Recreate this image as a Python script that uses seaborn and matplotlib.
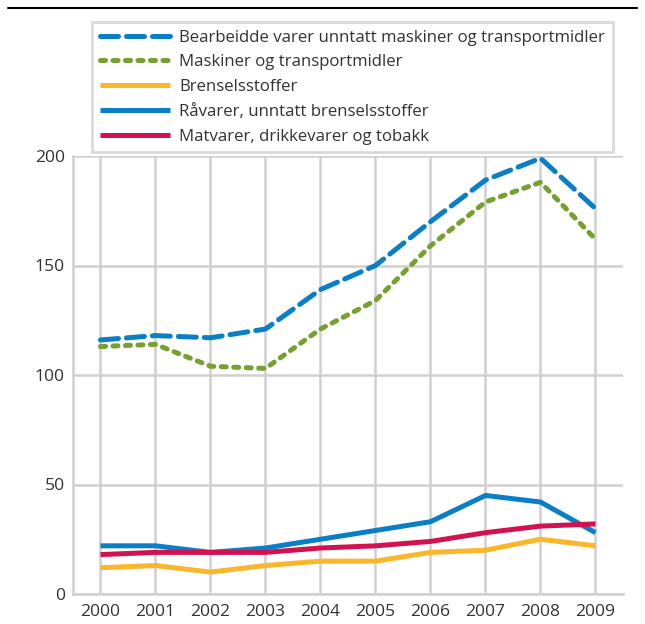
import matplotlib
matplotlib.use("Agg")
import matplotlib.pyplot as plt
import matplotlib.lines as mlines
import seaborn as sns
import pandas as pd

years = [2000, 2001, 2002, 2003, 2004, 2005, 2006, 2007, 2008, 2009]
series_names = [
    "Bearbeidde varer unntatt maskiner og transportmidler",
    "Maskiner og transportmidler",
    "Brenselsstoffer",
    "Råvarer, unntatt brenselsstoffer",
    "Matvarer, drikkevarer og tobakk",
]
bearbeidde = [116, 118, 117, 121, 139, 150, 170, 189, 199, 176]
maskiner = [113, 114, 104, 103, 121, 134, 159, 179, 188, 162]
brensel = [12, 13, 10, 13, 15, 15, 19, 20, 25, 22]
ravarer = [22, 22, 19, 21, 25, 29, 33, 45, 42, 28]
matvarer = [18, 19, 19, 19, 21, 22, 24, 28, 31, 32]
yticks = [0, 50, 100, 150, 200]

values = [bearbeidde, maskiner, brensel, ravarer, matvarer]
rows = []
for name, vals in zip(series_names, values):
    for y, v in zip(years, vals):
        rows.append({"year": y, "value": v, "series": name})
df = pd.DataFrame(rows)

sns.set_theme(style="white")
plt.rcParams["font.family"] = ["Open Sans", "DejaVu Sans"]

colors = {
    series_names[0]: "#0a7fc6",
    series_names[1]: "#76a030",
    series_names[2]: "#fbb62c",
    series_names[3]: "#0a7fc6",
    series_names[4]: "#d2124f",
}
dashes = {
    series_names[0]: (3.6, 1.6),
    series_names[1]: (1.0, 1.5),
    series_names[2]: "",
    series_names[3]: "",
    series_names[4]: "",
}

fig = plt.figure(figsize=(6.45, 6.24), dpi=100)
ax = fig.add_axes([73 / 645, 1 - 594 / 624, (623 - 73) / 645, (594 - 156) / 624])

sns.lineplot(data=df, x="year", y="value", hue="series", style="series",
             palette=colors, dashes=dashes, hue_order=series_names,
             style_order=series_names, linewidth=3.6, ax=ax, legend=True)

for line in ax.get_lines():
    line.set_dash_capstyle("round")
    line.set_solid_capstyle("butt")
    line.set_solid_joinstyle("round")

ax.set_xlim(1999.5, 2009.5)
ax.set_ylim(0, 200)
ax.set_xticks(years)
ax.set_xticklabels([str(y) for y in years])
ax.set_yticks(yticks)
ax.set_xlabel("")
ax.set_ylabel("")
ax.grid(True, color="#d0d0d0", linewidth=1.8)
ax.set_axisbelow(True)
for s in ["top", "right"]:
    ax.spines[s].set_visible(False)
for s in ["left", "bottom"]:
    ax.spines[s].set_color("#d0d0d0")
    ax.spines[s].set_linewidth(1.8)
ax.tick_params(axis="both", length=0, labelsize=12.6, colors="#333333")
ax.tick_params(axis="y", pad=6)
ax.tick_params(axis="x", pad=7)

handles, labels = ax.get_legend_handles_labels()
ax.get_legend().remove()
for h in handles:
    h.set_dash_capstyle("round")
    h.set_solid_capstyle("butt")
leg = fig.legend(handles, labels, loc="upper left",
                 bbox_to_anchor=(92 / 645, 1 - 22 / 624),
                 bbox_transform=fig.transFigure,
                 frameon=True, fancybox=False, fontsize=12.1,
                 handlelength=4.2, handletextpad=0.55, labelspacing=0.52,
                 borderpad=0.45, borderaxespad=0)
leg.get_frame().set_edgecolor("#d0d0d0")
leg.get_frame().set_linewidth(2)
for t in leg.get_texts():
    t.set_color("#333333")

fig.add_artist(mlines.Line2D([8 / 645, 637 / 645], [1 - 8 / 624, 1 - 8 / 624],
                             transform=fig.transFigure, color="black", linewidth=1.5))

fig.savefig("out.png", dpi=100)
